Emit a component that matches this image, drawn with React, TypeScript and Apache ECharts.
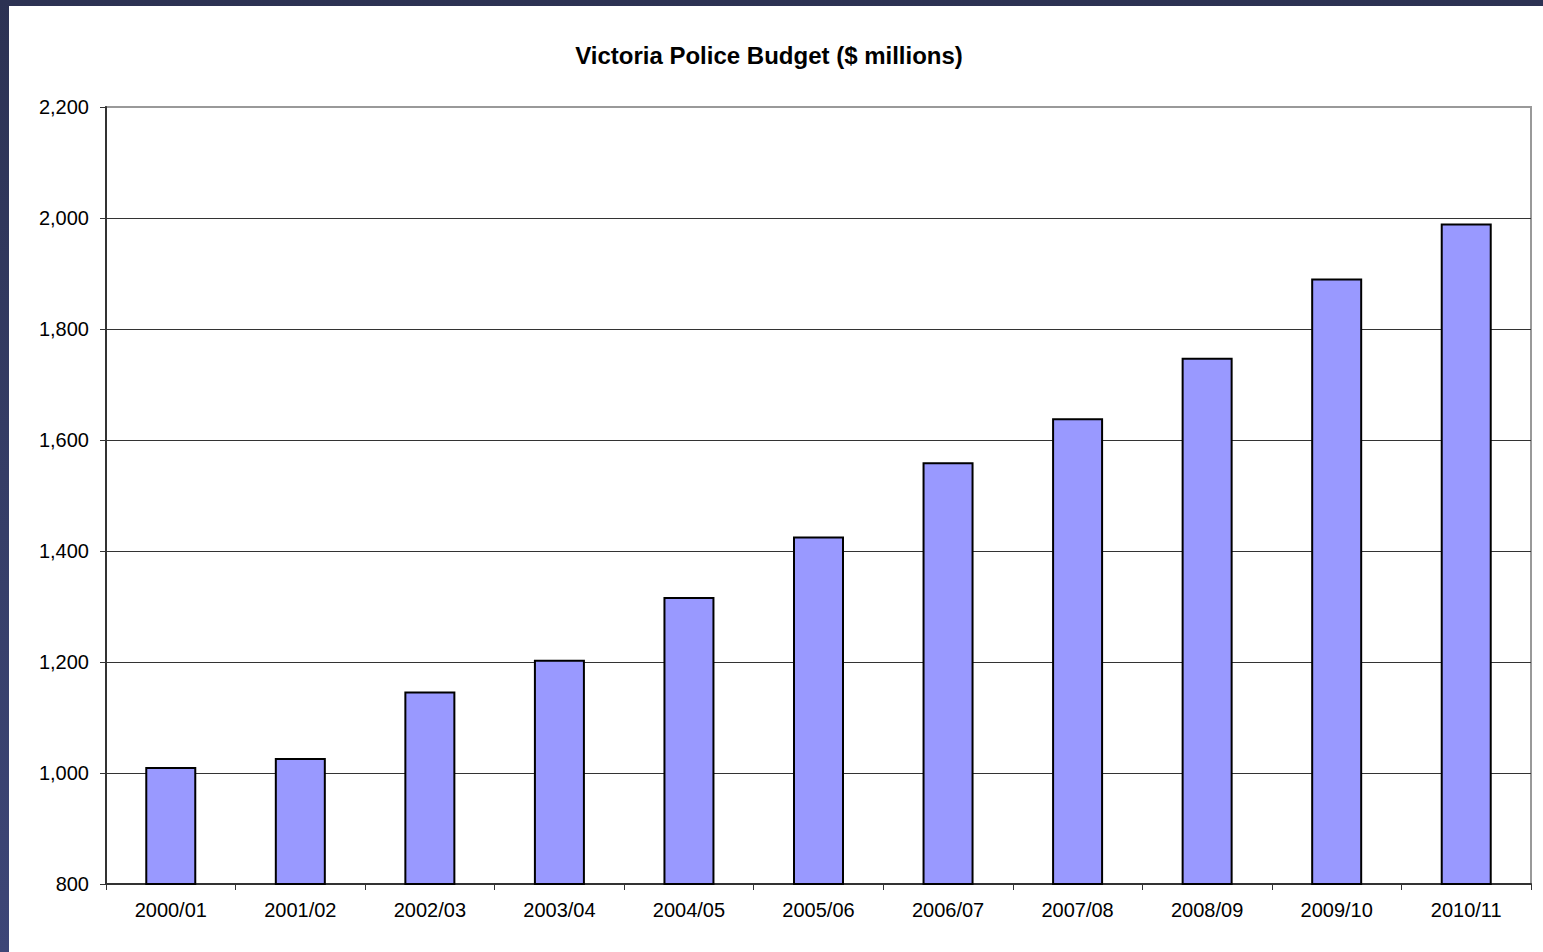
import React, { useEffect, useRef } from "react";
import * as echarts from "echarts";

const categories = [
  "2000/01", "2001/02", "2002/03", "2003/04", "2004/05", "2005/06",
  "2006/07", "2007/08", "2008/09", "2009/10", "2010/11",
];
const budget = [1011, 1027, 1147, 1204, 1317, 1426, 1560, 1639, 1748, 1891, 1990];
const titleText = "Victoria Police Budget ($ millions)";
const yMin = 800;
const yMax = 2200;
const yStep = 200;

export default function App() {
  const ref = useRef<HTMLDivElement>(null);
  useEffect(() => {
    if (!ref.current) return;
    const chart = echarts.init(ref.current, null, { renderer: "svg" });
    const font = "'Liberation Sans', Arial, sans-serif";
    chart.setOption({
      animation: false,
      backgroundColor: "#ffffff",
      title: {
        text: titleText,
        left: 755,
        top: 32,
        textAlign: "center",
        textStyle: { fontFamily: font, fontSize: 24, fontWeight: "bold", color: "#000" },
      },
      grid: {
        left: 97,
        top: 101,
        right: 12,
        bottom: 68,
        show: true,
        borderColor: "#999999",
        borderWidth: 2,
        backgroundColor: "transparent",
      },
      xAxis: {
        type: "category",
        data: categories,
        axisLine: { lineStyle: { color: "#333333", width: 2 } },
        axisTick: { show: true, inside: false, length: 6, alignWithLabel: false, lineStyle: { color: "#333333", width: 1 } },
        axisLabel: { color: "#000", fontFamily: font, fontSize: 20, margin: 16 },
        splitLine: { show: false },
      },
      yAxis: {
        type: "value",
        min: yMin,
        max: yMax,
        interval: yStep,
        axisLine: { show: true, lineStyle: { color: "#333333", width: 2 } },
        axisTick: { show: true, inside: false, length: 6, lineStyle: { color: "#333333", width: 1 } },
        axisLabel: {
          color: "#000",
          fontFamily: font,
          fontSize: 20,
          margin: 17,
          formatter: (v: number) => v.toLocaleString("en-US"),
        },
        splitLine: {
          show: true,
          lineStyle: {
            color: ["#333333", "#333333", "#333333", "#333333", "#333333", "#333333", "#333333", "#999999"],
            width: 1,
          },
        },
      },
      series: [
        {
          type: "bar",
          data: budget,
          barWidth: 51,
          itemStyle: { color: "#9999ff", borderColor: "#000000", borderWidth: 2 },
        },
      ],
    });
    return () => chart.dispose();
  }, []);
  return (
    <div
      style={{
        position: "fixed",
        left: 0,
        top: 0,
        width: 1543,
        height: 952,
        background: "linear-gradient(180deg, #2c3253 0%, #353d66 50%, #3d4677 100%)",
      }}
    >
      <div
        ref={ref}
        style={{ position: "absolute", left: 9, top: 6, width: 1534, height: 946 }}
      />
    </div>
  );
}
